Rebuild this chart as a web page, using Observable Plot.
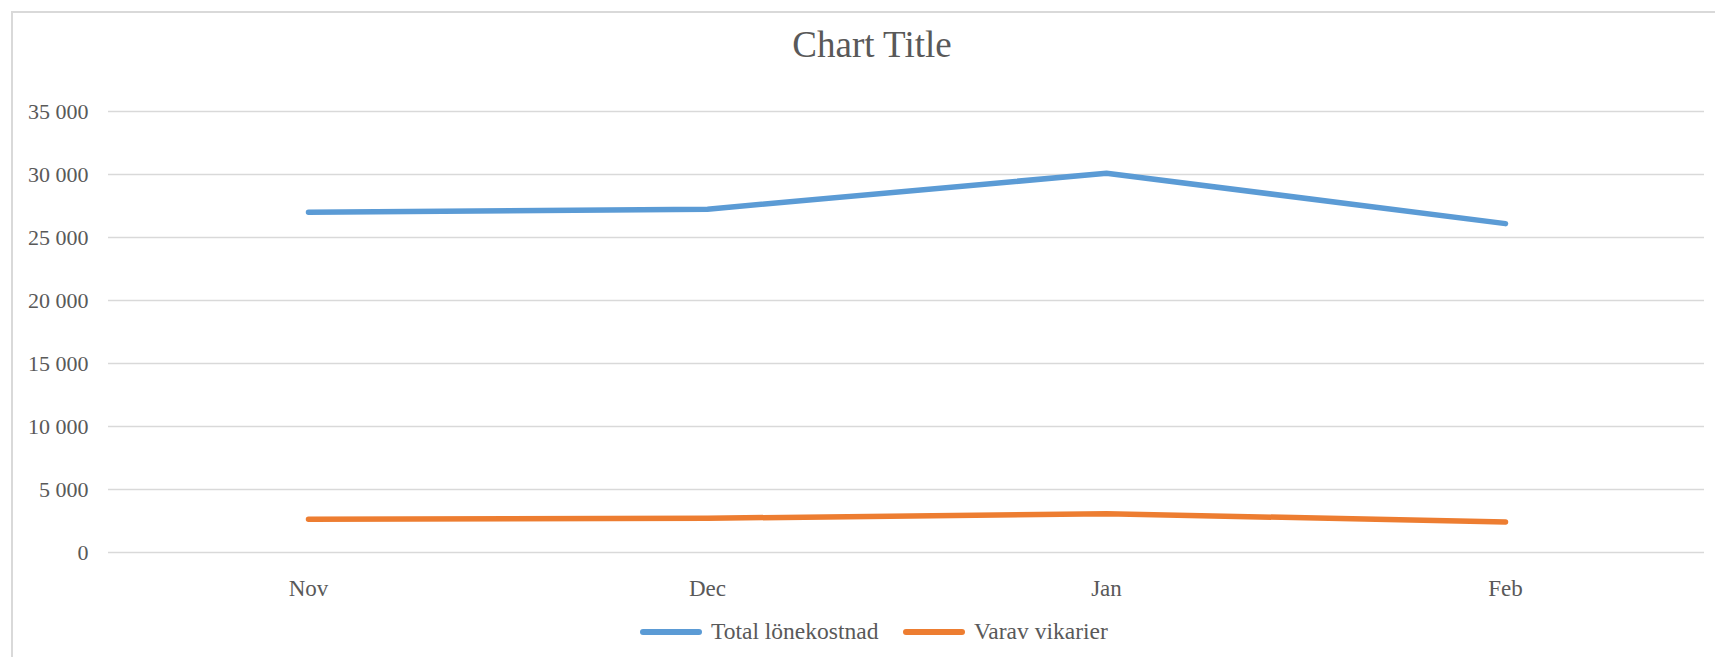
<!DOCTYPE html>
<html>
<head>
<meta charset="utf-8">
<script src="https://cdn.jsdelivr.net/npm/d3@7"></script>
<script src="https://cdn.jsdelivr.net/npm/@observablehq/plot@0.6"></script>
<style>
  html, body { margin: 0; padding: 0; background: #fff; }
  #wrap { position: relative; width: 1715px; height: 657px; overflow: hidden; font-family: "Liberation Serif", serif; color: #595959; }
  #frame { position: absolute; left: 11px; top: 11px; width: 1720px; height: 660px; border: 2px solid #d9d9d9; box-sizing: border-box; }
  #title { position: absolute; left: 0; top: 22px; width: 1744px; text-align: center; font-size: 37px; line-height: 46px; }
  #plot { position: absolute; left: 0; top: 0; }
  #legend { position: absolute; top: 617px; left: 0; width: 1715px; height: 28px; font-size: 23.5px; }
  .item { position: absolute; top: 0; height: 28px; line-height: 28px; white-space: nowrap; }
  .sw { position: absolute; top: 12px; width: 62px; height: 5.5px; border-radius: 3px; }
  .lbl { position: absolute; left: 71px; top: 0; }
</style>
</head>
<body>
<div id="wrap">
  <div id="frame"></div>
  <div id="title">Chart Title</div>
  <div id="plot"></div>
  <div id="legend"></div>
</div>
<script>
const months = ["Nov", "Dec", "Jan", "Feb"];
const totalLonekostnad = [27000, 27250, 30100, 26100];
const varavVikarier = [2640, 2720, 3070, 2430];
const seriesNames = ["Total lönekostnad", "Varav vikarier"];
const seriesColors = ["#5b9bd5", "#ed7d31"];
const yTicks = [0, 5000, 10000, 15000, 20000, 25000, 30000, 35000];

const data = [];
months.forEach((m, i) => {
  data.push({month: m, value: totalLonekostnad[i], series: seriesNames[0]});
  data.push({month: m, value: varavVikarier[i], series: seriesNames[1]});
});

const fmt = v => d3.format(",")(v).replace(/,/g, " ");

const chart = Plot.plot({
  width: 1715,
  height: 610,
  marginLeft: 108,
  marginRight: 11,
  marginTop: 111,
  marginBottom: 58,
  style: { fontFamily: "Liberation Serif, serif", color: "#595959", background: "transparent", overflow: "visible" },
  x: { type: "point", domain: months, padding: 0.5, label: null },
  y: { domain: [0, 35000], label: null },
  color: { domain: seriesNames, range: seriesColors },
  marks: [
    Plot.ruleY(yTicks, { stroke: "#d9d9d9", strokeWidth: 1.5 }),
    Plot.axisY(yTicks, { tickSize: 0, tickPadding: 20, tickFormat: fmt, fontSize: 22, fill: "#595959", label: null }),
    Plot.axisX({ tickSize: 0, tickPadding: 27, fontSize: 23, fill: "#595959", label: null }),
    Plot.line(data, { x: "month", y: "value", z: "series", stroke: "series", strokeWidth: 5.5, strokeLinecap: "round", strokeLinejoin: "round" })
  ]
});
document.getElementById("plot").appendChild(chart);

const legend = document.getElementById("legend");
const lefts = [640, 903];
seriesNames.forEach((name, i) => {
  const item = document.createElement("div");
  item.className = "item";
  item.style.left = lefts[i] + "px";
  const sw = document.createElement("div");
  sw.className = "sw";
  sw.style.background = seriesColors[i];
  const lbl = document.createElement("span");
  lbl.className = "lbl";
  lbl.textContent = name;
  item.appendChild(sw);
  item.appendChild(lbl);
  legend.appendChild(item);
});
</script>
</body>
</html>
